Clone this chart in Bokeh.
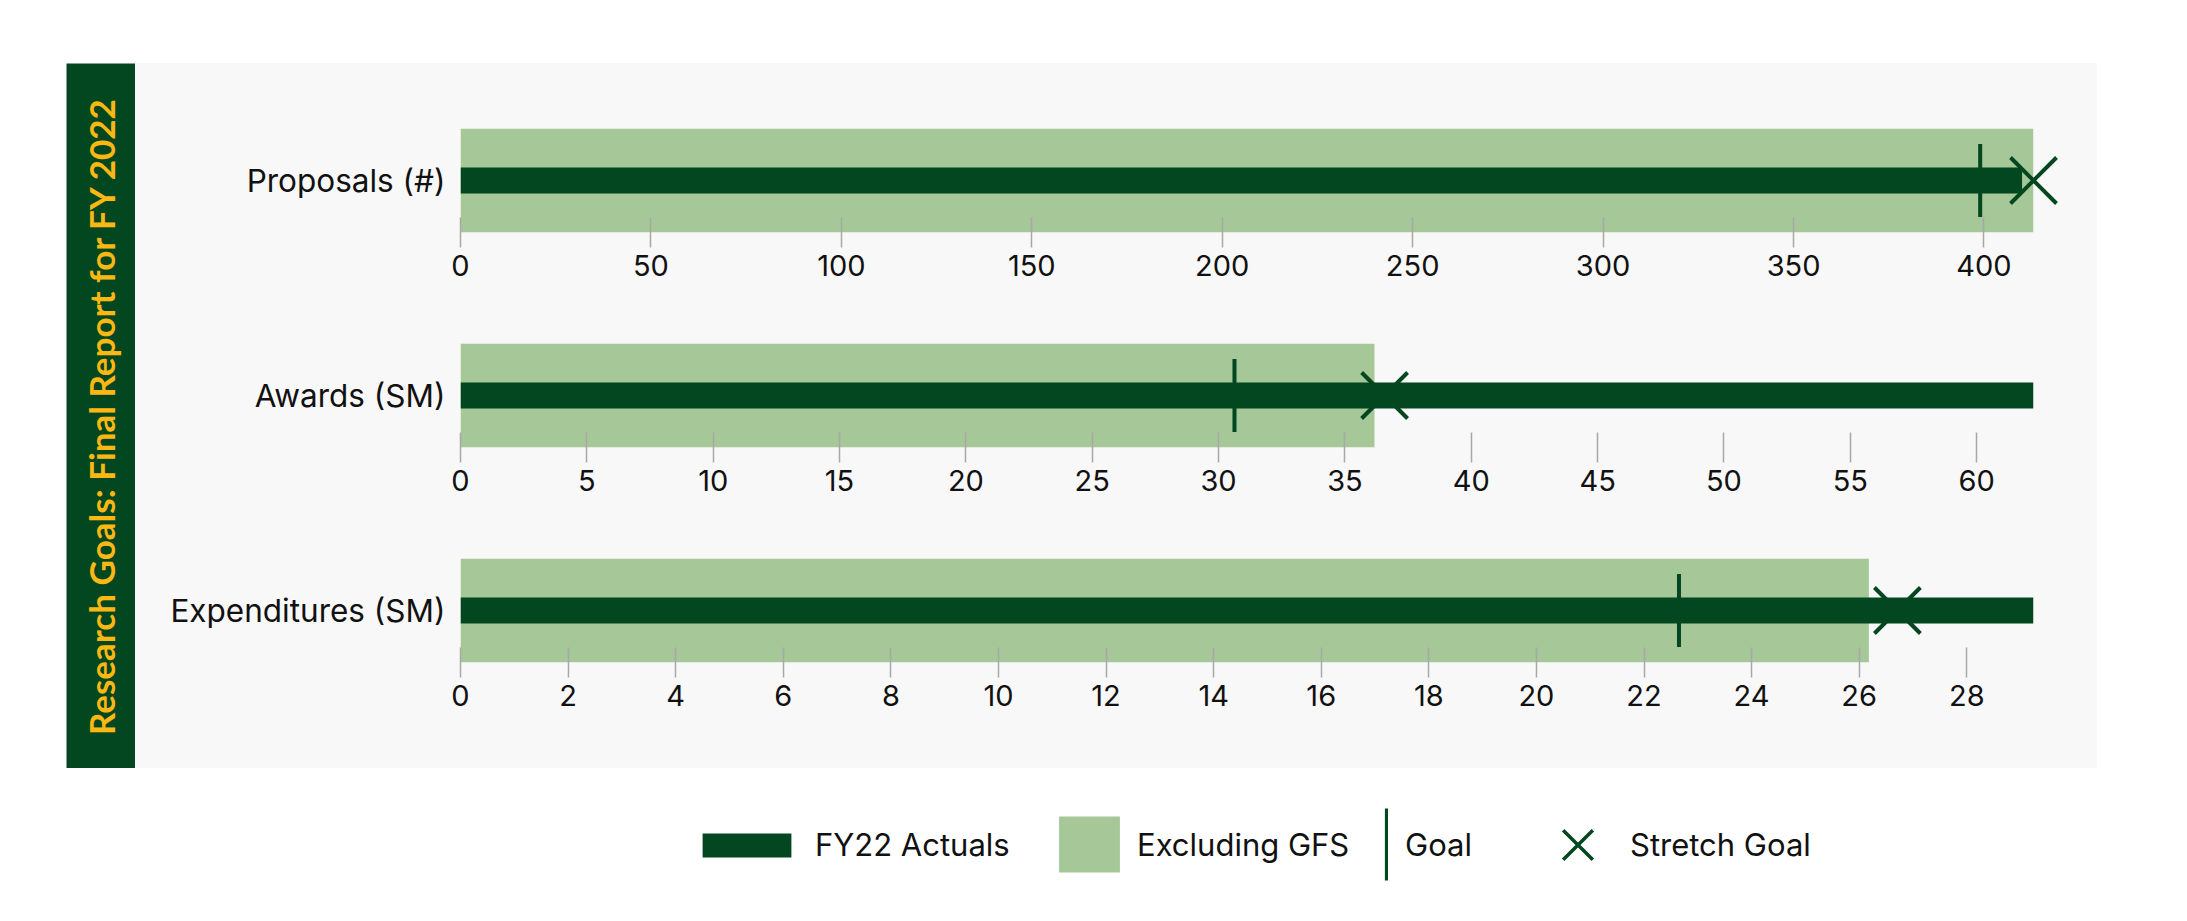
from math import pi
from bokeh.plotting import figure
from bokeh.models import (FactorRange, Range1d, FixedTicker, Legend, LegendItem,
                          ColumnDataSource, Spacer, Label)
from bokeh.layouts import column, row
from bokeh.embed import file_html
from bokeh.resources import INLINE

# ---------------- data ----------------
title = "Research Goals: Final Report for FY 2022"
categories = ["Proposals (#)", "Awards (SM)", "Expenditures (SM)"]
actuals = [410, 62.25, 29.24]
excluding_gfs = [413, 36.17, 26.18]
goals = [399, 30.63, 22.65]
stretch_goals = [413, 36.57, 26.71]
ticks_proposals = [0, 50, 100, 150, 200, 250, 300, 350, 400]
ticks_awards = [0, 5, 10, 15, 20, 25, 30, 35, 40, 45, 50, 55, 60]
ticks_expenditures = [0, 2, 4, 6, 8, 10, 12, 14, 16, 18, 20, 22, 24, 26, 28]
tick_sets = [ticks_proposals, ticks_awards, ticks_expenditures]
legend_labels = ["FY22 Actuals", "Excluding GFS", "Goal", "Stretch Goal"]

# ---------------- style ----------------
DARK = "#02471F"
LIGHT = "#A6C797"
PANEL = "#F8F8F8"
GOLD = "#FBB713"
FONT = "Inter"

rows = []
for i, cat in enumerate(categories):
    top = 65 if i == 0 else 55
    bottom = 106 if i == 2 else 56
    h = top + 104 + bottom
    xmax = max(actuals[i], excluding_gfs[i], goals[i], stretch_goals[i])
    p = figure(width=1962, height=h, x_range=Range1d(0, xmax),
               y_range=FactorRange(factors=[cat]),
               output_backend="svg", toolbar_location=None,
               min_border_left=325, min_border_right=64,
               min_border_top=top, min_border_bottom=bottom)
    p.background_fill_color = PANEL
    p.border_fill_color = PANEL
    p.outline_line_color = None
    p.grid.visible = False
    src = ColumnDataSource(dict(cat=[cat], actual=[actuals[i]], excl=[excluding_gfs[i]],
                                goal=[goals[i]], stretch=[stretch_goals[i]]))
    p.hbar(y="cat", left=0, right="excl", height=1, fill_color=LIGHT, line_color=None, source=src)
    p.hbar(y="cat", left=0, right="actual", height=0.25, fill_color=DARK, line_color=None, source=src)
    p.scatter(x="goal", y="cat", marker="dash", angle=pi / 2, size=73,
              line_color=DARK, line_width=4, source=src)
    p.scatter(x="stretch", y="cat", marker="x", size=65,
              line_color=DARK, line_width=4, source=src, level="overlay")

    xa = p.xaxis[0]
    xa.ticker = FixedTicker(ticks=tick_sets[i])
    xa.axis_line_color = None
    xa.minor_tick_line_color = None
    xa.major_tick_in = 15
    xa.major_tick_out = 15
    xa.major_tick_line_color = "#A8A8A8"
    xa.major_tick_line_width = 1.5
    xa.major_label_standoff = 7
    xa.major_label_text_font = FONT
    xa.major_label_text_font_size = "29px"
    xa.major_label_text_color = "#111111"

    ya = p.yaxis[0]
    ya.axis_line_color = None
    ya.major_tick_line_color = None
    ya.major_tick_in = 0
    ya.major_tick_out = 0
    ya.major_label_standoff = 15
    ya.major_label_text_font = FONT
    ya.major_label_text_font_size = "31.5px"
    ya.major_label_text_color = "#111111"
    rows.append(p)

# ---------------- title band ----------------
band = figure(width=69, height=705, x_range=Range1d(0, 1), y_range=Range1d(0, 1),
              output_backend="svg", toolbar_location=None, min_border=0,
              x_axis_location=None, y_axis_location=None)
band.background_fill_color = DARK
band.border_fill_color = DARK
band.outline_line_color = None
band.grid.visible = False
band.add_layout(Label(x=0.5, y=0.5, text=title, angle=pi / 2, text_align="center",
                      text_baseline="middle", text_font="Lato", text_font_style="bold",
                      text_font_size="35px", text_color=GOLD))

# ---------------- legend ----------------
lf = figure(width=2187, height=153, x_range=Range1d(0, 1), y_range=Range1d(0, 1),
            output_backend="svg", toolbar_location=None, min_border=0,
            x_axis_location=None, y_axis_location=None)
lf.background_fill_color = "white"
lf.border_fill_color = "white"
lf.outline_line_color = None
lf.grid.visible = False
# legend-only renderers, kept outside the visible range
r_dark = lf.hbar(y=[-5], right=[-5], height=1, fill_color=DARK, line_color=None)
r_light = lf.hbar(y=[-5], right=[-5], height=1, fill_color=LIGHT, line_color=None)
r_goal = lf.hbar(y=[-5], right=[-5], height=1, fill_color=DARK, line_color=None)
r_x = lf.scatter(x=[-5], y=[-5], marker="x", size=60, line_color=DARK, line_width=3.5)

specs = [
    (legend_labels[0], r_dark, 111, 30, 13, (691, 58)),
    (legend_labels[1], r_light, 76, 70, 10, (1051, 42)),
    (legend_labels[2], r_goal, 4, 90, 17, (1384, 32)),
    (legend_labels[3], r_x, 105, 105, 0, (1525, 24)),
]
for label, rend, gw, gh, so, loc in specs:
    leg = Legend(items=[LegendItem(label=label, renderers=[rend])], location=loc,
                 glyph_width=gw, glyph_height=gh, label_standoff=so,
                 padding=0, margin=0, spacing=0, border_line_color=None,
                 background_fill_alpha=0, label_text_font=FONT,
                 label_text_font_size="31px", label_text_color="#111111")
    lf.add_layout(leg)

layout = column(
    Spacer(width=2187, height=63),
    row(Spacer(width=66, height=705), band,
        column(*rows, styles={"background-color": PANEL})),
    lf,
)

open("out.html", "w").write(file_html(layout, INLINE))
